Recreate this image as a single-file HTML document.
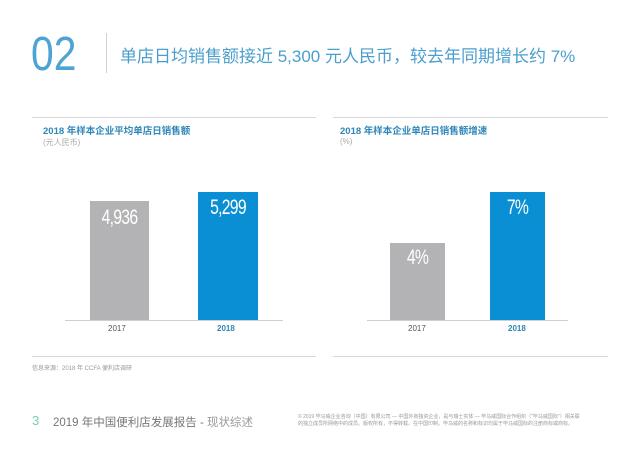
<!DOCTYPE html>
<html><head><meta charset="utf-8"><style>
body{margin:0;width:640px;height:452px;background:#fff;position:relative;overflow:hidden;font-family:"Liberation Sans","Noto Sans CJK SC",sans-serif}
.a{position:absolute;white-space:nowrap}
.bar{position:absolute}
.v{position:absolute;color:#fff;font-family:"Liberation Sans Narrow","Liberation Sans",sans-serif;font-size:21px;text-align:center;letter-spacing:-1px;transform:scaleX(0.75)}
</style></head><body>
<div class="a" style="left:31px;top:27px;font-size:48px;color:#4ea3d3;line-height:56px;transform:scaleX(0.85);transform-origin:left">02</div>
<div class="a" style="left:106px;top:33px;width:1px;height:40px;background:#d0d0d0"></div>
<div class="a" style="left:120px;top:42px;font-size:17px;color:#4a9fcc">单店日均销售额接近 5,300 元人民币，较去年同期增长约 7%</div>
<div class="a" style="left:32px;top:117px;width:284px;height:1px;background:#d8d8d8"></div>
<div class="a" style="left:333px;top:117px;width:275px;height:1px;background:#d8d8d8"></div>
<div class="a" style="left:43px;top:123px;font-size:9.5px;font-weight:bold;color:#2e86b8">2018 年样本企业平均单店日销售额</div>
<div class="a" style="left:43px;top:137px;font-size:8px;color:#aaa">(元人民币)</div>
<div class="a" style="left:340px;top:123px;font-size:9.5px;font-weight:bold;color:#2e86b8">2018 年样本企业单店日销售额增速</div>
<div class="a" style="left:340px;top:137px;font-size:8px;color:#aaa">(%)</div>

<div class="bar" style="left:90px;top:201px;width:59px;height:119px;background:#b3b3b5"></div>
<div class="v" style="left:90px;top:206px;width:59px">4,936</div>
<div class="bar" style="left:198px;top:192px;width:60px;height:128px;background:#0b8fd4"></div>
<div class="v" style="left:198px;top:196px;width:60px">5,299</div>
<div class="a" style="left:65px;top:320px;width:218px;height:1px;background:#cfcfcf"></div>
<div class="a" style="left:108px;top:324px;font-size:8px;color:#555">2017</div>
<div class="a" style="left:217px;top:324px;font-size:8px;font-weight:bold;color:#2e86b8">2018</div>

<div class="bar" style="left:390px;top:243px;width:55px;height:77px;background:#b3b3b5"></div>
<div class="v" style="left:390px;top:246px;width:55px">4%</div>
<div class="bar" style="left:490px;top:192px;width:55px;height:128px;background:#0b8fd4"></div>
<div class="v" style="left:490px;top:196px;width:55px">7%</div>
<div class="a" style="left:367px;top:320px;width:201px;height:1px;background:#cfcfcf"></div>
<div class="a" style="left:408px;top:324px;font-size:8px;color:#555">2017</div>
<div class="a" style="left:508px;top:324px;font-size:8px;font-weight:bold;color:#2e86b8">2018</div>

<div class="a" style="left:32px;top:356px;width:284px;height:1px;background:#d8d8d8"></div>
<div class="a" style="left:333px;top:356px;width:275px;height:1px;background:#d8d8d8"></div>
<div class="a" style="left:32px;top:363px;font-size:6px;color:#999">信息来源：2018 年 CCFA 便利店调研</div>

<div class="a" style="left:32px;top:413px;font-size:13px;color:#7fc8b8">3</div>
<div class="a" style="left:53px;top:414px;font-size:11.5px;color:#777">2019 年中国便利店发展报告 - <span style="color:#999">现状综述</span></div>
<div class="a" style="left:298px;top:414px;font-size:5px;line-height:7px;color:#999">© 2019 毕马威企业咨询（中国）有限公司 — 中国外商独资企业，是与瑞士实体 — 毕马威国际合作组织（"毕马威国际"）相关联<br>的独立成员所网络中的成员。版权所有，不得转载。在中国印制。毕马威的名称和标识均属于毕马威国际的注册商标或商标。</div>
</body></html>
